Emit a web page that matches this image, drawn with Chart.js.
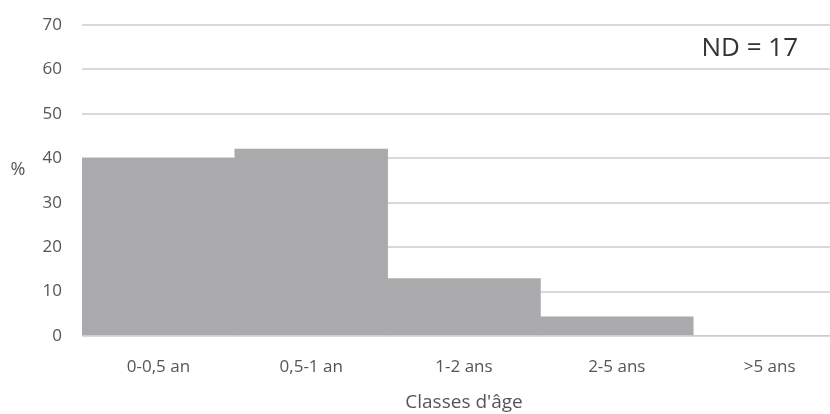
<!DOCTYPE html>
<html><head><meta charset="utf-8">
<script src="https://cdn.jsdelivr.net/npm/chart.js@4/dist/chart.umd.min.js"></script>
<style>
html,body{margin:0;padding:0;background:#fff;overflow:hidden;width:830px;height:414px;}
#wrap{position:absolute;left:0;top:0;width:850px;height:414px;}
</style></head>
<body>
<div id="wrap"><canvas id="c" width="850" height="414"></canvas></div>
<script>
const categories = ["0-0,5 an", "0,5-1 an", "1-2 ans", "2-5 ans", ">5 ans"];
const values = [40, 42.1, 12.9, 4.3, 0];
const yTicks = [0, 10, 20, 30, 40, 50, 60, 70];
const xTitle = "Classes d'âge";
const yTitle = "%";
const note = "ND = 17";

const FONT = "'Open Sans', sans-serif";
const textPlugin = {
  id: 'texts',
  afterDraw(chart) {
    const ctx = chart.ctx;
    ctx.save();
    ctx.fillStyle = '#555555';
    ctx.font = "18px " + FONT;
    ctx.textAlign = 'center';
    ctx.textBaseline = 'middle';
    ctx.fillText(yTitle, 18, 170);
    ctx.fillStyle = '#333333';
    ctx.font = "26px " + FONT;
    ctx.textAlign = 'right';
    ctx.textBaseline = 'middle';
    ctx.fillText(note, 798, 49);
    ctx.restore();
  }
};

new Chart(document.getElementById('c'), {
  type: 'bar',
  data: {
    labels: categories,
    datasets: [{ data: values, backgroundColor: '#aaaaad', borderWidth: 0,
      barPercentage: 1, categoryPercentage: 1 }]
  },
  options: {
    responsive: false,
    animation: false,
    layout: { padding: { left: 0, right: 4, top: 25, bottom: 0 } },
    plugins: { legend: { display: false }, tooltip: { enabled: false } },
    scales: {
      x: {
        grid: { display: false, drawTicks: false },
        border: { display: false },
        ticks: { color: '#555555', font: { family: FONT, size: 17 }, padding: 21, maxRotation: 0 },
        title: { display: true, text: xTitle, color: '#555555', font: { family: FONT, size: 19 }, padding: { top: 2, bottom: 0 } },
        afterFit(s) { s.height = 78; s.paddingLeft = 0; s.paddingRight = 0; }
      },
      y: {
        min: 0, max: 70,
        afterBuildTicks(s) { s.ticks = yTicks.map(v => ({ value: v })); },
        grid: { color: '#d9d9d9', lineWidth: 2, drawTicks: false },
        border: { display: false },
        ticks: { color: '#555555', font: { family: FONT, size: 17 }, padding: 20 },
        afterFit(s) { s.width = 82; s.paddingTop = 0; s.paddingBottom = 0; }
      }
    }
  },
  plugins: [textPlugin]
});
</script>
</body></html>
